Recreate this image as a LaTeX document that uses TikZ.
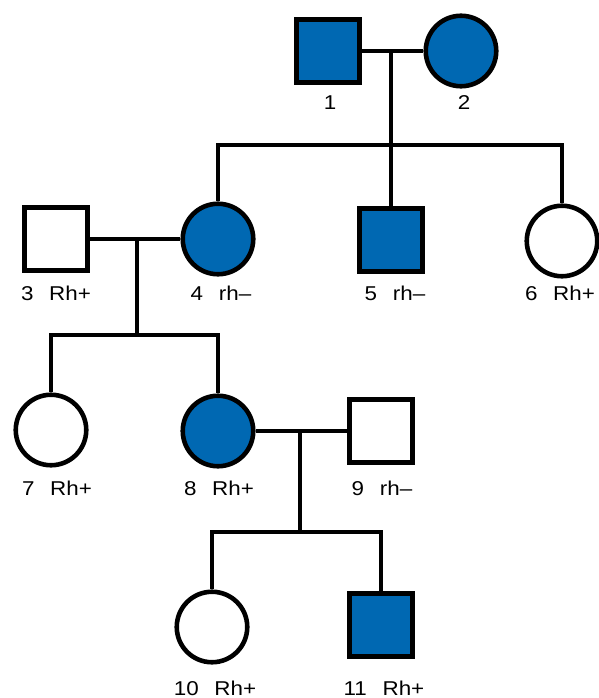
\documentclass[tikz,border=0pt]{standalone}
\usepackage{fontspec}
\setmainfont{Liberation Sans}
\definecolor{rhblue}{RGB}{0,104,178}

\begin{document}
\begin{tikzpicture}[x=1pt, y=-1pt,
		male/.style={draw=black, line width=4.6pt, rectangle, minimum size=63.5pt, inner sep=0pt},
		female/.style={draw=black, line width=4.6pt, circle, minimum size=70.5pt, inner sep=0pt},
		affected/.style={fill=rhblue},
		tag/.style={font=\fontsize{20}{22}\selectfont, xscale=1.12, inner sep=0pt},
		link/.style={black, line width=3.2pt}]
		\useasboundingbox (0,0) rectangle (599,698);

		% generation I
		\node[male, affected] (p1) at (328,51) {};
		\node[female, affected] (p2) at (461,51) {};
		% generation II
		\node[male] (p3) at (56,239) {};
		\node[female, affected] (p4) at (218,239) {};
		\node[male, affected] (p5) at (391,240) {};
		\node[female] (p6) at (562,241) {};
		% generation III
		\node[female] (p7) at (51,430) {};
		\node[female, affected] (p8) at (218,431) {};
		\node[male] (p9) at (381,431) {};
		% generation IV
		\node[female] (p10) at (212,627) {};
		\node[male, affected] (p11) at (381,625) {};

		\coordinate (c1) at (391,51);
		\coordinate (s1) at (391,145);
		\coordinate (c2) at (137,239);
		\coordinate (s2) at (137,335);
		\coordinate (c3) at (300,431);
		\coordinate (s3) at (300,532);

		\draw[link] (p1) -- (p2);
		\draw[link] (c1) -- (s1);
		\draw[link] (p4.north) -- (p4.north |- s1) -- (p6.north |- s1) -- (p6.north);
		\draw[link] (s1) -- (p5.north);

		\draw[link] (p3) -- (p4);
		\draw[link] (c2) -- (s2);
		\draw[link] (p7.north) -- (p7.north |- s2) -- (p8.north |- s2) -- (p8.north);

		\draw[link] (p8) -- (p9);
		\draw[link] (c3) -- (s3);
		\draw[link] (p10.north) -- (p10.north |- s3) -- (p11.north |- s3) -- (p11.north);

		\node[tag] (t1) at (330,103) {1};
		\node[tag] (t2) at (464,103) {2};
		\node[tag] (t3) at (56,293) {3\hspace{0.7em}Rh+};
		\node[tag] (t4) at (221,293) {4\hspace{0.7em}rh–};
		\node[tag] (t5) at (395,293) {5\hspace{0.7em}rh–};
		\node[tag] (t6) at (560,293) {6\hspace{0.7em}Rh+};
		\node[tag] (t7) at (57,488) {7\hspace{0.7em}Rh+};
		\node[tag] (t8) at (219,488) {8\hspace{0.7em}Rh+};
		\node[tag] (t9) at (382,488) {9\hspace{0.7em}rh–};
		\node[tag] (t10) at (215,688) {10\hspace{0.7em}Rh+};
		\node[tag] (t11) at (384,688) {11\hspace{0.7em}Rh+};

	\end{tikzpicture}
\end{document}
